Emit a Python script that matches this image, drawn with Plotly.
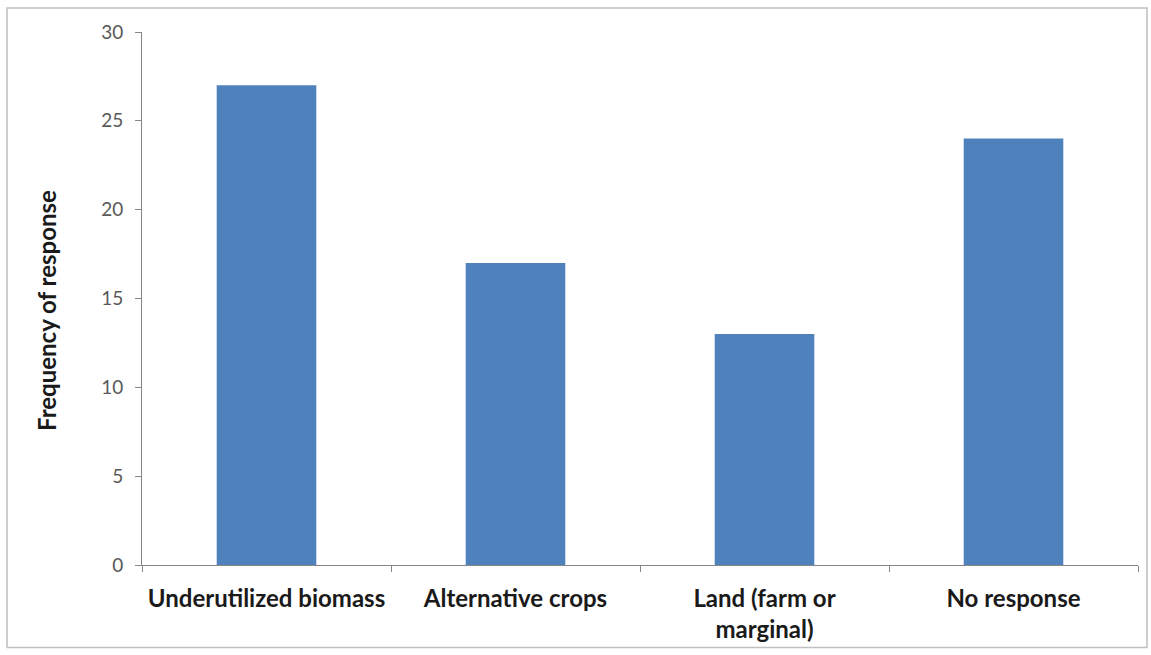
import plotly.graph_objects as go

# Survey responses: source of feedstock
categories = ["Underutilized biomass", "Alternative crops", "Land (farm or<br>marginal)", "No response"]
frequency = [27, 17, 13, 24]
y_ticks = [0, 5, 10, 15, 20, 25, 30]
y_title = "Frequency of response"

fig = go.Figure(
    go.Bar(
        x=categories,
        y=frequency,
        marker=dict(color="#4F81BD", line=dict(width=0)),
        width=0.4,
    )
)

fig.update_layout(
    width=1151,
    height=655,
    margin=dict(l=142, r=13, t=32, b=88),
    plot_bgcolor="white",
    paper_bgcolor="white",
    showlegend=False,
    font=dict(family="Lato, 'Open Sans', sans-serif"),
    shapes=[
        # outer frame around the whole chart
        dict(
            type="rect", xref="paper", yref="paper",
            x0=-0.1355, x1=1.009, y0=-0.155, y1=1.045,
            line=dict(color="#BFBFBF", width=1.5),
            fillcolor="rgba(0,0,0,0)",
        )
    ],
    annotations=[
        # y-axis title, placed by hand so it sits slightly below the axis midpoint
        dict(
            text=y_title, textangle=-90, showarrow=False,
            xref="paper", yref="paper", x=-0.0954, y=0.4785,
            xanchor="center", yanchor="middle",
            font=dict(size=24, color="#1a1a1a", weight="bold"),
        )
    ],
)

fig.update_xaxes(
    showline=True,
    linecolor="#868686",
    linewidth=1,
    ticks="outside",
    tickson="boundaries",
    ticklen=6,
    tickcolor="#868686",
    showgrid=False,
    tickfont=dict(size=24, color="#1a1a1a", weight="bold"),
    ticklabelstandoff=12,
)

fig.update_yaxes(
    range=[0, 30],
    tickvals=y_ticks,
    showline=True,
    linecolor="#868686",
    linewidth=1,
    ticks="outside",
    ticklen=6,
    tickcolor="#868686",
    showgrid=False,
    zeroline=False,
    tickfont=dict(size=19, color="#595959"),
    ticklabelstandoff=8,
)

fig.write_html("out.html")
